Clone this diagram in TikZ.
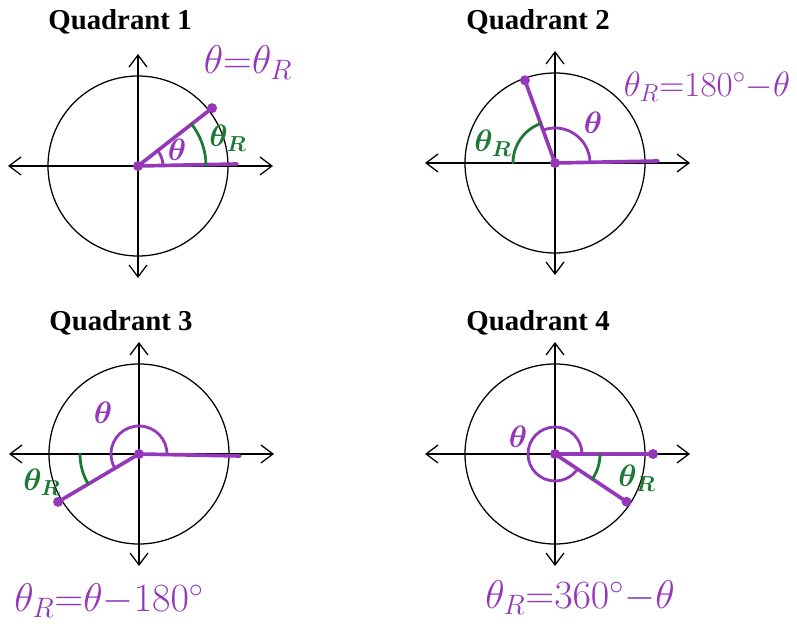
\RequirePackage{fix-cm}
\documentclass[tikz,border=0pt]{standalone}
\usepackage{fontspec}
\newfontfamily\titlefont{Liberation Serif}
\usetikzlibrary{angles,arrows.meta}
\definecolor{QuadPurple}{HTML}{9438B9}
\definecolor{QuadGreen}{HTML}{1C7A36}
\begin{document}
\begin{tikzpicture}[x=0.25mm,y=0.25mm,line cap=round,line join=round,
  axis/.style={line width=0.9pt,{Straight Barb[length=3mm,width=4.5mm]}-{Straight Barb[length=3mm,width=4.5mm]}},
  ray/.style={QuadPurple,line width=2.6pt},
  arcP/.style={draw=QuadPurple,line width=2pt},
  arcG/.style={draw=QuadGreen,line width=2pt},
  title/.style={font=\titlefont\bfseries\fontsize{20.5}{24}\selectfont},
  eqn/.style={QuadPurple,font=\fontsize{25}{30}\selectfont},
  eqnbig/.style={QuadPurple,font=\fontsize{28.5}{32}\selectfont},
  lbl/.style={font=\fontsize{22}{24}\selectfont\boldmath}]
  \useasboundingbox (0,0) rectangle (797,627);
  % axes and unit circles
  \foreach \c/\x/\y in {1/138/461,2/555/464,3/139/173,4/555/173}{
    \coordinate (O\c) at (\x,\y);
    \draw[axis] (\x-130,\y)--(\x+135,\y);\draw[axis] (\x,\y-112)--(\x,\y+112);
    \draw[line width=0.9pt] (O\c) circle[radius=90];}
  \node[title] (q1) at (120,605) {Quadrant 1};\node[title] (q2) at (538,605) {Quadrant 2};
  \node[title] (q3) at (121,304) {Quadrant 3};\node[title] (q4) at (538,304) {Quadrant 4};
  % terminal sides
  \path (O1) ++(38:94) coordinate (P1) (O1) ++(99,2) coordinate (X1);
  \path (O2) ++(110:88) coordinate (P2) (O2) ++(103,2) coordinate (X2) (O2) ++(-60,0) coordinate (L2);
  \path (O3) ++(210.6:94) coordinate (P3) (O3) ++(101,-2) coordinate (X3) (O3) ++(-60,0) coordinate (L3);
  \path (O4) ++(-33.7:86) coordinate (P4) (O4) ++(98,0) coordinate (X4);
  \foreach \c in {1,2,3,4}{\draw[ray] (X\c)--(O\c)--(P\c);}
  % angles
  \pic[arcP,angle radius=6.25mm] {angle=X1--O1--P1};\pic[arcG,angle radius=17mm] {angle=X1--O1--P1};
  \pic[arcP,angle radius=8.75mm] {angle=X2--O2--P2};\pic[arcG,angle radius=10.5mm] {angle=P2--O2--L2};
  \pic[arcP,angle radius=7mm] {angle=X3--O3--P3};\pic[arcG,angle radius=14.75mm] {angle=L3--O3--P3};
  \pic[arcP,angle radius=6.75mm] {angle=X4--O4--P4};\pic[arcG,angle radius=11.25mm] {angle=P4--O4--X4};
  \foreach \P in {O1,P1,O2,P2,O3,P3,O4,P4,X4}{\fill[QuadPurple] (\P) circle[radius=5];}
  % labels
  \node[lbl,QuadPurple] (t1) at (177,477) {$\theta$};\node[lbl,QuadGreen] (r1) at (228,489) {$\theta_R$};
  \node[lbl,QuadPurple] (t2) at (593,504) {$\theta$};\node[lbl,QuadGreen] (r2) at (493,484) {$\theta_R$};
  \node[lbl,QuadPurple] (t3) at (103,214) {$\theta$};\node[lbl,QuadGreen] (r3) at (42,145) {$\theta_R$};
  \node[lbl,QuadPurple] (t4) at (518,190) {$\theta$};\node[lbl,QuadGreen] (r4) at (637,149) {$\theta_R$};
  \node[eqnbig] (e1) at (248,564) {$\theta{=}\theta_R$};
  \node[eqn] (e2) at (707,540) {$\theta_R{=}180^\circ{-}\theta$};
  \node[eqnbig] (e3) at (109,26) {$\theta_R{=}\theta{-}180^\circ$};
  \node[eqnbig] (e4) at (580,29) {$\theta_R{=}360^\circ{-}\theta$};
\end{tikzpicture}
\end{document}
